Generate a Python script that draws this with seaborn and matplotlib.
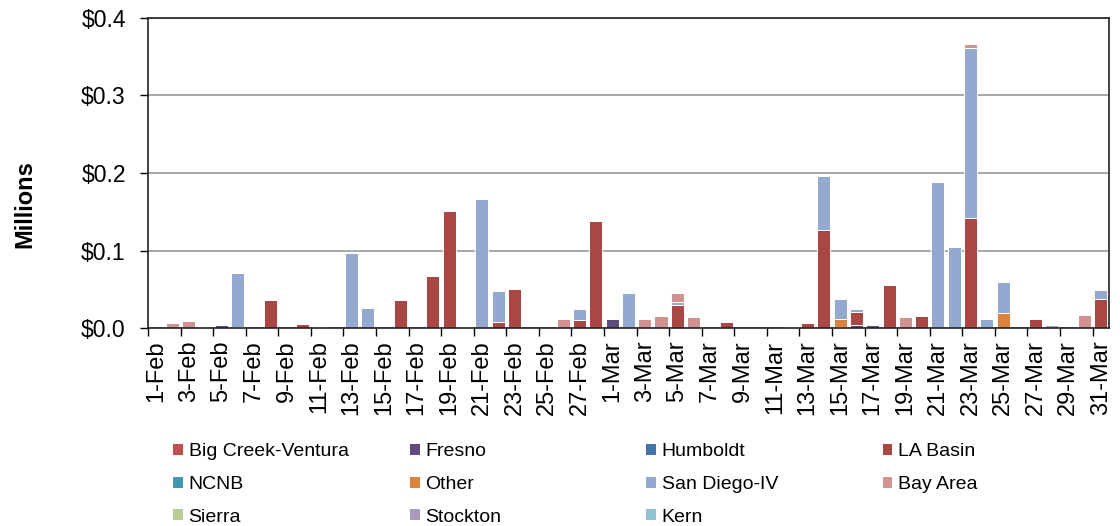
import numpy as np
import matplotlib
matplotlib.use("Agg")
import matplotlib.pyplot as plt
from matplotlib.patches import Patch
from matplotlib.ticker import StrMethodFormatter, FixedLocator
import seaborn as sns


sns.set_style("white")
plt.rcParams["font.family"] = ["Liberation Sans", "DejaVu Sans"]
plt.rcParams["text.color"] = "black"
plt.rcParams["xtick.color"] = "black"
plt.rcParams["ytick.color"] = "black"
plt.rcParams["axes.labelcolor"] = "black"

days = [f"{d}-Feb" for d in range(1, 29)] + [f"{d}-Mar" for d in range(1, 32)]

# values in $ millions, one entry per day (1-Feb .. 31-Mar)
big_creek = [0.0] * 59
fresno = [0, 0, 0, 0, 0.004, 0, 0, 0, 0, 0, 0, 0, 0, 0, 0, 0, 0, 0, 0, 0.0015,
          0, 0, 0, 0, 0, 0, 0, 0, 0.0115, 0, 0, 0, 0, 0, 0, 0, 0, 0, 0, 0,
          0, 0, 0.0015, 0.0035, 0.004, 0, 0, 0, 0, 0, 0, 0, 0, 0, 0, 0, 0, 0, 0]
humboldt = [0.0] * 59
la_basin = [0, 0, 0, 0.001, 0, 0.001, 0, 0.0357, 0, 0.0047, 0.001, 0, 0, 0, 0, 0.0357, 0, 0.0667, 0.151, 0,
            0, 0.0073, 0.0507, 0, 0, 0, 0.0103, 0.1385, 0, 0, 0, 0, 0.030, 0, 0, 0.0073, 0, 0, 0, 0.001,
            0.006, 0.1265, 0, 0.0175, 0, 0.0555, 0, 0.0159, 0, 0, 0.1415, 0, 0, 0, 0.012, 0, 0, 0, 0.0378]
ncnb = [0.0] * 59
other = [0, 0, 0, 0, 0, 0, 0, 0, 0, 0, 0, 0, 0, 0, 0, 0, 0, 0, 0, 0,
         0, 0, 0, 0, 0, 0, 0, 0, 0, 0, 0, 0, 0, 0, 0, 0, 0, 0, 0, 0,
         0, 0, 0.010, 0, 0, 0, 0, 0.0013, 0, 0, 0, 0, 0.019, 0, 0, 0, 0, 0, 0]
san_diego = [0, 0, 0, 0, 0, 0.0695, 0, 0, 0, 0, 0, 0, 0.097, 0.0254, 0, 0, 0, 0, 0, 0,
             0.166, 0.0407, 0, 0, 0, 0, 0.0137, 0, 0, 0.0447, 0, 0, 0.003, 0, 0, 0, 0, 0, 0, 0,
             0, 0.0695, 0.026, 0.004, 0, 0, 0, 0, 0.188, 0.105, 0.2195, 0.0116, 0.040, 0, 0, 0.0035, 0, 0, 0.0108]
bay_area = [0, 0.006, 0.0095, 0, 0, 0, 0, 0, 0, 0, 0, 0, 0, 0, 0, 0, 0.0026, 0, 0, 0.0015,
            0, 0.0013, 0, 0, 0, 0.012, 0, 0, 0.001, 0, 0.0116, 0.0155, 0.0117, 0.0138, 0, 0, 0, 0, 0, 0,
            0, 0, 0, 0, 0, 0, 0.0142, 0, 0, 0, 0.0055, 0, 0, 0, 0, 0, 0, 0.0168, 0]
sierra = [0.0] * 59
stockton = [0.0] * 59
kern = [0, 0, 0, 0, 0, 0, 0, 0, 0, 0, 0, 0, 0, 0, 0, 0, 0, 0, 0, 0,
        0, 0, 0, 0, 0, 0, 0, 0, 0, 0.0015, 0, 0, 0.0015, 0, 0, 0, 0, 0, 0, 0,
        0, 0, 0, 0, 0, 0, 0, 0, 0, 0, 0, 0, 0, 0, 0, 0.0015, 0, 0, 0]

series = [
    ("Big Creek-Ventura", big_creek, "#C0504D"),
    ("Fresno", fresno, "#5F4B7F"),
    ("Humboldt", humboldt, "#4572A7"),
    ("LA Basin", la_basin, "#AA4643"),
    ("NCNB", ncnb, "#4198AF"),
    ("Other", other, "#DB843D"),
    ("San Diego-IV", san_diego, "#93A9CF"),
    ("Bay Area", bay_area, "#D19392"),
    ("Sierra", sierra, "#B9CD96"),
    ("Stockton", stockton, "#A99BBD"),
    ("Kern", kern, "#92C3D5"),
]

fig = plt.figure(figsize=(11.2, 5.26), dpi=100)
ax = fig.add_axes([0.1321, 0.3764, 0.858, 0.5894])

bottom = np.zeros(len(days))
for name, vals, color in series:
    vals = np.array(vals, dtype=float)
    sns.barplot(x=days, y=vals, order=days, color=color, saturation=1,
                bottom=bottom, width=0.8, errorbar=None, edgecolor="white",
                linewidth=0.7, ax=ax)
    bottom = bottom + vals

ax.set_ylim(0, 0.4)
ax.set_xlim(-0.5, len(days) - 0.5)
ax.set_yticks([0, 0.1, 0.2, 0.3, 0.4])
ax.yaxis.set_major_formatter(StrMethodFormatter("${x:.1f}"))
ax.set_xticks(range(0, len(days), 2))
ax.set_xticklabels(days[::2], rotation=90)
ax.xaxis.set_minor_locator(FixedLocator(np.arange(-0.5, len(days) - 1, 2)))
ax.tick_params(axis="x", which="major", length=0, pad=9, labelsize=17)
ax.tick_params(axis="x", which="minor", length=6, width=1, color="black",
               direction="out", bottom=True)
ax.tick_params(axis="y", length=6, width=1, color="black", direction="out",
               left=True, pad=10, labelsize=16.5)
ax.set_xlabel("")
ax.set_ylabel("Millions", fontsize=17, fontweight="bold")
ax.yaxis.set_label_coords(-0.116, 0.4)

ax.grid(axis="y", color="#a0a0a0", linewidth=1.3)
ax.grid(axis="x", visible=False)
ax.set_axisbelow(True)
for side in ["left", "bottom", "top", "right"]:
    ax.spines[side].set_visible(True)
    ax.spines[side].set_color("#222222")
    ax.spines[side].set_linewidth(1.2)

# legend laid out in 4 columns, filled row by row
col_x = [0.1545, 0.366, 0.577, 0.788]
for c in range(4):
    items = series[c::4]
    handles = [Patch(facecolor=col, edgecolor="none") for _, _, col in items]
    labels = [n for n, _, _ in items]
    fig.legend(handles, labels, loc="upper left", bbox_to_anchor=(col_x[c], 0.157),
               frameon=False, fontsize=14, handlelength=0.5, handleheight=0.5,
               handletextpad=0.3, labelspacing=0.8, borderpad=0, borderaxespad=0)

fig.savefig("out.png", dpi=100)
